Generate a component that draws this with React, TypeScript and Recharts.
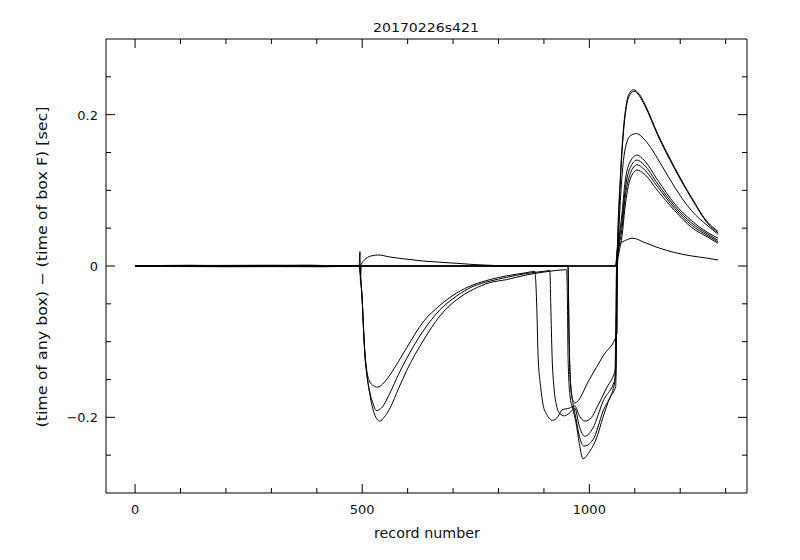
import { LineChart, Line, XAxis, YAxis } from 'recharts';

// record number vs (time of box) - (time of box F), one list per box
const boxA: [number, number][] = [
  [0, 0], [120, 0.001], [250, 0], [380, 0.001], [493, 0], [495, 0.019], [496, -0.02], [498, 0.002],
  [505, 0.008], [518, 0.013], [535, 0.0146], [560, 0.012], [598, 0.009], [635, 0.0065], [671, 0.005],
  [707, 0.0036], [744, 0.002], [790, 0.0007], [830, 0], [1058, 0], [1061, 0.02], [1068, 0.029],
  [1080, 0.034], [1096, 0.0367], [1120, 0.0315], [1151, 0.0243], [1188, 0.0177], [1225, 0.0133],
  [1261, 0.0102], [1283, 0.008],
];

const boxB: [number, number][] = [
  [0, 0], [200, -0.001], [494, 0], [497, -0.02], [500, -0.045], [503, -0.085], [506, -0.115],
  [510, -0.138], [516, -0.152], [524, -0.158], [534, -0.16], [545, -0.156], [561, -0.144],
  [580, -0.126], [598, -0.108], [634, -0.074], [671, -0.052], [707, -0.036], [744, -0.025],
  [781, -0.018], [818, -0.013], [860, -0.009], [880, -0.007], [882, -0.02], [885, -0.07],
  [887, -0.117], [893, -0.161], [898, -0.183], [906, -0.196], [919, -0.204], [931, -0.199],
  [940, -0.19], [955, -0.188], [968, -0.185], [978, -0.198], [990, -0.205], [1005, -0.2],
  [1016, -0.1876], [1038, -0.161], [1058, -0.135], [1061, 0], [1068, 0.115], [1075, 0.181],
  [1082, 0.216], [1090, 0.23], [1097, 0.233], [1110, 0.227], [1122, 0.214], [1151, 0.174],
  [1188, 0.13], [1225, 0.0906], [1261, 0.0575], [1283, 0.046],
];

const boxC: [number, number][] = [
  [0, 0], [494, 0], [497, -0.02], [500, -0.045], [503, -0.085], [506, -0.118], [510, -0.142],
  [516, -0.165], [524, -0.182], [531, -0.191], [540, -0.189], [561, -0.168], [580, -0.143],
  [598, -0.122], [634, -0.086], [671, -0.058], [707, -0.04], [744, -0.027], [781, -0.02],
  [818, -0.015], [860, -0.01], [900, -0.007], [913, -0.006], [915, -0.05], [918, -0.12],
  [922, -0.16], [928, -0.185], [935, -0.195], [945, -0.198], [955, -0.195], [968, -0.188],
  [978, -0.212], [990, -0.225], [1008, -0.214], [1030, -0.179], [1058, -0.146], [1061, 0],
  [1066, 0.035], [1072, 0.06], [1078, 0.097], [1090, 0.13], [1105, 0.14], [1120, 0.134],
  [1151, 0.108], [1188, 0.079], [1225, 0.057], [1261, 0.042], [1283, 0.034],
];

const boxD: [number, number][] = [
  [0, 0], [300, 0.001], [494, 0], [497, -0.02], [500, -0.045], [503, -0.085], [506, -0.118],
  [510, -0.142], [516, -0.167], [524, -0.19], [532, -0.202], [539, -0.205], [548, -0.2],
  [561, -0.188], [580, -0.162], [598, -0.138], [634, -0.099], [671, -0.066], [707, -0.045],
  [744, -0.031], [781, -0.022], [818, -0.018], [860, -0.012], [900, -0.008], [950, -0.005],
  [952, -0.06], [953, -0.117], [957, -0.17], [964, -0.19], [970, -0.205], [978, -0.235],
  [986, -0.255], [995, -0.25], [1001, -0.245], [1016, -0.227], [1030, -0.2], [1045, -0.174],
  [1058, -0.159], [1061, 0], [1066, 0.02], [1072, 0.04], [1078, 0.075], [1090, 0.115],
  [1105, 0.1268], [1120, 0.122], [1151, 0.099], [1188, 0.073], [1225, 0.051], [1261, 0.038],
  [1283, 0.03],
];

const boxE: [number, number][] = [
  [0, 0], [494, 0], [953, 0], [955, -0.08], [958, -0.15], [964, -0.178], [968, -0.181],
  [1000, -0.15], [1030, -0.119], [1061, -0.089], [1062, 0], [1066, 0.06], [1072, 0.12],
  [1078, 0.152], [1090, 0.172], [1104, 0.175], [1120, 0.168], [1140, 0.152], [1160, 0.132],
  [1188, 0.104], [1225, 0.073], [1261, 0.053], [1283, 0.042],
];

const boxG: [number, number][] = [
  [0, 0], [420, -0.001], [494, 0], [953, 0], [955, -0.08], [958, -0.15], [964, -0.182],
  [970, -0.2], [978, -0.225], [988, -0.238], [1008, -0.2295], [1030, -0.192], [1056, -0.1536],
  [1060, 0], [1066, 0.028], [1072, 0.05], [1078, 0.087], [1090, 0.122], [1105, 0.1338],
  [1120, 0.128], [1151, 0.104], [1188, 0.076], [1225, 0.054], [1261, 0.04], [1283, 0.032],
];

const boxH: [number, number][] = [
  [0, 0], [494, 0], [1058, 0], [1062, 0.03], [1068, 0.11], [1075, 0.176], [1082, 0.212],
  [1090, 0.227], [1098, 0.231], [1110, 0.225], [1122, 0.212], [1151, 0.172], [1188, 0.128],
  [1225, 0.089], [1261, 0.056], [1283, 0.044],
];

const boxI: [number, number][] = [
  [0, 0], [494, 0], [1058, 0], [1061, 0.01], [1066, 0.04], [1072, 0.07], [1078, 0.108],
  [1090, 0.138], [1105, 0.1466], [1120, 0.14], [1151, 0.113], [1188, 0.082], [1225, 0.06],
  [1261, 0.044], [1283, 0.037],
];

const boxes = [boxA, boxB, boxC, boxD, boxE, boxG, boxH, boxI];

const xTicks = [0, 100, 200, 300, 400, 500, 600, 700, 800, 900, 1000, 1100, 1200, 1300];
const xLabels: Record<number, string> = { 0: '0', 500: '500', 1000: '1000' };
const yTicks = [-0.25, -0.2, -0.15, -0.1, -0.05, 0, 0.05, 0.1, 0.15, 0.2, 0.25];
const yLabels: Record<string, string> = { '-0.20': '\u22120.2', '0.00': '0', '0.20': '0.2' };

const title = '20170226s421';
const xTitle = 'record number';
const yTitle = '(time of any box) \u2212 (time of box F) [sec]';

const FONT = '"DejaVu Sans", sans-serif';
const INK = '#111';

const isMajorX = (v: number) => v % 500 === 0;
const isMajorY = (v: number) => yLabels[Number(v).toFixed(2)] !== undefined;

function BottomTick({ x, y, payload }: any) {
  const v = payload.value;
  const major = isMajorX(v);
  return (
    <g>
      <line x1={x} x2={x} y1={y} y2={y - (major ? 9 : 5)} stroke="#000" />
      {major && (
        <text x={x} y={y + 21} textAnchor="middle" fontSize={13} fontFamily={FONT} fill={INK}>
          {xLabels[v]}
        </text>
      )}
    </g>
  );
}

function TopTick({ x, y, payload }: any) {
  const major = isMajorX(payload.value);
  return <line x1={x} x2={x} y1={y} y2={y + (major ? 9 : 5)} stroke="#000" />;
}

function LeftTick({ x, y, payload }: any) {
  const v = payload.value;
  const major = isMajorY(v);
  return (
    <g>
      <line x1={x} x2={x + (major ? 9 : 5)} y1={y} y2={y} stroke="#000" />
      {major && (
        <text x={x - 8} y={y + 5} textAnchor="end" fontSize={13} fontFamily={FONT} fill={INK}>
          {yLabels[Number(v).toFixed(2)]}
        </text>
      )}
    </g>
  );
}

function RightTick({ x, y, payload }: any) {
  const major = isMajorY(payload.value);
  return <line x1={x} x2={x - (major ? 9 : 5)} y1={y} y2={y} stroke="#000" />;
}

export default function App() {
  const series = boxes.map((b) => b.map(([x, y]) => ({ x, y })));
  return (
    <div style={{ position: 'absolute', left: 0, top: 0, width: 800, height: 560, background: '#fff' }}>
      <LineChart width={800} height={560} margin={{ top: 19, right: 33, bottom: 37, left: 66 }}>
        <XAxis
          xAxisId="b" orientation="bottom" type="number" dataKey="x" domain={[-64, 1347]} allowDataOverflow
          ticks={xTicks} interval={0} height={30} tickSize={0} tickMargin={0}
          axisLine={{ stroke: '#000' }} tickLine={false} tick={<BottomTick />}
        />
        <XAxis
          xAxisId="t" orientation="top" type="number" dataKey="x" domain={[-64, 1347]} allowDataOverflow
          ticks={xTicks} interval={0} height={20} tickSize={0} tickMargin={0}
          axisLine={{ stroke: '#000' }} tickLine={false} tick={<TopTick />}
        />
        <YAxis
          yAxisId="l" orientation="left" type="number" domain={[-0.3, 0.3]} allowDataOverflow
          ticks={yTicks} interval={0} width={40} tickSize={0} tickMargin={0}
          axisLine={{ stroke: '#000' }} tickLine={false} tick={<LeftTick />}
        />
        <YAxis
          yAxisId="r" orientation="right" type="number" domain={[-0.3, 0.3]} allowDataOverflow
          ticks={yTicks} interval={0} width={20} tickSize={0} tickMargin={0}
          axisLine={{ stroke: '#000' }} tickLine={false} tick={<RightTick />}
        />
        {series.map((d, i) => (
          <Line
            key={i} xAxisId="b" yAxisId="l" data={d} dataKey="y" type="monotone"
            stroke="#000" strokeWidth={1} dot={false} activeDot={false} isAnimationActive={false}
          />
        ))}
        {/* invisible series so the top and right axes get a scale too */}
        <Line
          xAxisId="t" yAxisId="r" data={series[0]} dataKey="y" stroke="none"
          dot={false} activeDot={false} isAnimationActive={false}
        />
      </LineChart>
      <svg width={800} height={560} style={{ position: 'absolute', left: 0, top: 0, pointerEvents: 'none' }}>
        <text x={426} y={31.5} textAnchor="middle" fontSize={13} fontFamily={FONT} fill={INK}
          textLength={106} lengthAdjust="spacingAndGlyphs">{title}</text>
        <text x={427} y={538} textAnchor="middle" fontSize={13.5} fontFamily={FONT} fill={INK}
          textLength={106} lengthAdjust="spacingAndGlyphs">{xTitle}</text>
        <text x={0} y={0} transform="translate(47,267) rotate(-90)" textAnchor="middle" fontSize={13.5}
          fontFamily={FONT} fill={INK} textLength={321} lengthAdjust="spacingAndGlyphs">{yTitle}</text>
      </svg>
    </div>
  );
}
